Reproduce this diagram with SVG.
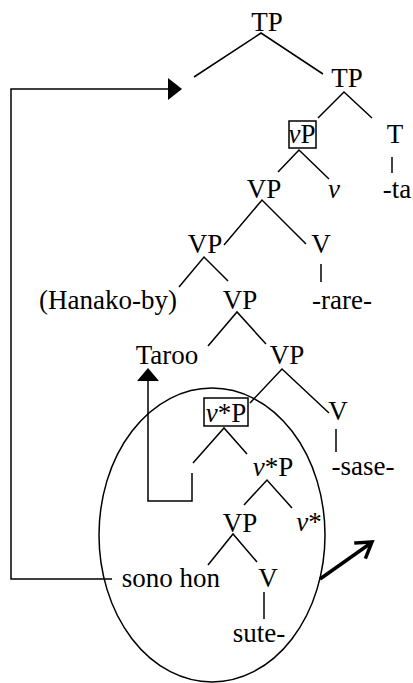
<svg xmlns="http://www.w3.org/2000/svg" width="413" height="683" viewBox="0 0 413 683">
<style>
text{font-family:"Liberation Serif","Times New Roman",serif;font-size:27px;fill:#000;text-anchor:middle}
.i{font-style:italic}
line,polyline,path{stroke:#000;stroke-width:1.5;fill:none}
.box{fill:none;stroke:#000;stroke-width:1.5}
.head{fill:#000;stroke:none}
.thick{stroke-width:3.5}
</style>
<rect width="413" height="683" fill="#fff"/>
<g id="nodes">
<g id="tp1"><text x="267" y="31">TP</text></g>
<g id="tp2"><text x="347" y="87">TP</text></g>
<g id="vP"><rect class="box" x="289" y="121" width="27" height="27"/><text x="302" y="143"><tspan class="i">v</tspan>P</text></g>
<g id="T"><text x="395" y="143">T</text></g>
<g id="ta"><text x="397" y="198">-ta</text></g>
<g id="vp1"><text x="264" y="198">VP</text></g>
<g id="v"><text class="i" x="334" y="198">v</text></g>
<g id="vp2"><text x="205" y="253">VP</text></g>
<g id="V1"><text x="321" y="253">V</text></g>
<g id="hanako"><text x="108" y="309">(Hanako-by)</text></g>
<g id="vp3"><text x="240" y="309">VP</text></g>
<g id="rare"><text x="342" y="309">-rare-</text></g>
<g id="taroo"><text x="167" y="364">Taroo</text></g>
<g id="vp4"><text x="287" y="364">VP</text></g>
<g id="vstarP1"><rect class="box" x="204" y="398" width="44" height="28"/><text x="226" y="422"><tspan class="i">v</tspan>*P</text></g>
<g id="V2"><text x="338" y="420">V</text></g>
<g id="sase"><text x="363" y="475">-sase-</text></g>
<g id="vstarP2"><text x="273" y="476"><tspan class="i">v</tspan>*P</text></g>
<g id="vp5"><text x="240" y="532">VP</text></g>
<g id="vstar"><text x="309" y="531"><tspan class="i">v</tspan>*</text></g>
<g id="sonohon"><text x="171" y="587">sono hon</text></g>
<g id="V3"><text x="268" y="587">V</text></g>
<g id="sute"><text x="259" y="642">sute-</text></g>
<g id="ellipse"><ellipse cx="212" cy="535" rx="113" ry="147" style="fill:none;stroke:#000;stroke-width:1.5"/></g>
</g>
<g id="connectors">
<polyline points="194,77 261,33 323,74"/>
<polyline points="318,118 344,92 372,118"/>
<line x1="392" y1="157" x2="392" y2="173"/>
<polyline points="278,172 299,150 329,179"/>
<polyline points="224,245 262,200 306,244"/>
<polyline points="179,287 204,257 228,281"/>
<line x1="321" y1="264" x2="321" y2="282"/>
<polyline points="208,346 237,312 266,344"/>
<polyline points="250,403 282,369 329,413"/>
<line x1="336" y1="429" x2="336" y2="452"/>
<polyline points="193,463 224,428 247,454"/>
<polyline points="244,505 267,480 292,508"/>
<polyline points="208,565 233,534 257,562"/>
<line x1="264" y1="592" x2="264" y2="619"/>
<polyline points="112,579 11,579 11,89 168,89"/>
<path class="head" d="M168,78 L182,89 L168,100 Z"/>
<polyline points="192,473 192,501 148,501 148,381"/>
<path class="head" d="M137,381 L148,368 L159,381 Z"/>
<line class="thick" x1="320" y1="579" x2="371" y2="543"/>
<polyline class="thick" points="356,543 372,542 366,557" style="stroke-linecap:square"/>
</g>
</svg>
